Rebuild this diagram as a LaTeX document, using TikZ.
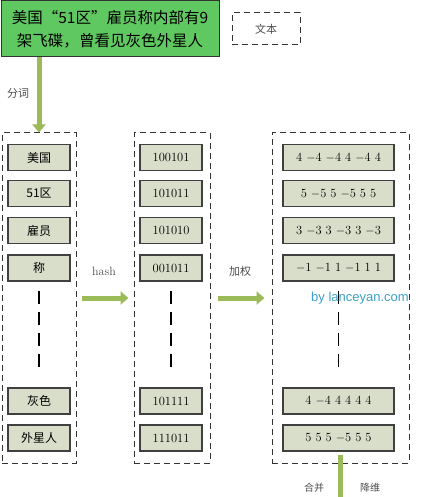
\documentclass[tikz,border=0pt]{standalone}
\usepackage{fontspec}
\newfontfamily\cjk{Noto Sans CJK SC}
\newfontfamily\webfont{Liberation Sans}
\usetikzlibrary{arrows.meta}
\definecolor{topgreen}{RGB}{96,200,96}
\definecolor{flowgreen}{RGB}{155,187,89}
\definecolor{itemfill}{RGB}{217,222,203}
\definecolor{markblue}{RGB}{60,160,200}
\newcommand\wsep{\hspace{4pt}}
\tikzset{
  item/.style={draw=black!75,line width=1.2pt,fill=itemfill,minimum height=26pt,inner sep=0pt,font=\fontsize{12.5}{14}\selectfont},
  column/.style={draw=black!80,line width=1pt,dash pattern=on 6pt off 4pt,minimum height=330pt,inner sep=0pt},
  flow/.style={line width=5pt,draw=flowgreen,-{Triangle[width=13pt,length=8pt]}},
  gapline/.style={line width=1.5pt,dash pattern=on 13pt off 8pt},
  steplabel/.style={font=\fontsize{12}{14}\selectfont,text=black!70}
}
\begin{document}
\begin{tikzpicture}[x=1pt,y=-1pt]
        \useasboundingbox (0,0) rectangle (425,497);
        % text and sample box
        \node[draw=black!80,line width=1pt,fill=topgreen,minimum width=218pt,minimum height=56pt,align=center,inner sep=0pt,
              font=\cjk\fontsize{15.5}{23}\selectfont] (doc) at (110,29) {美国“51区”雇员称内部有9\\架飞碟，曾看见灰色外星人};
        \node[draw=black!80,line width=1pt,dash pattern=on 6pt off 4pt,minimum width=68pt,minimum height=32pt,
              font=\cjk\fontsize{11}{13}\selectfont,text=black!70] (legend) at (266,29) {文本};
        % columns
        \node[column,minimum width=74pt] (c1) at (39,298) {};
        \node[column,minimum width=76pt] (c2) at (172,298) {};
        \node[column,minimum width=137pt] (c3) at (340.5,298) {};
        % words
        \node[item,minimum width=62pt,font=\cjk\fontsize{12}{14}\selectfont] (w1) at (39,157.5) {美国};
        \node[item,minimum width=62pt,font=\cjk\fontsize{12}{14}\selectfont] (w2) at (39,193.5) {51区};
        \node[item,minimum width=62pt,font=\cjk\fontsize{12}{14}\selectfont] (w3) at (39,230.5) {雇员};
        \node[item,minimum width=62pt,font=\cjk\fontsize{12}{14}\selectfont] (w4) at (39,268) {称};
        \node[item,minimum width=62pt,font=\cjk\fontsize{12}{14}\selectfont] (w5) at (39,401) {灰色};
        \node[item,minimum width=62pt,font=\cjk\fontsize{12}{14}\selectfont] (w6) at (39,438) {外星人};
        % hashes
        \node[item,minimum width=62pt] (h1) at (171,157.5) {100101};
        \node[item,minimum width=62pt] (h2) at (171,193.5) {101011};
        \node[item,minimum width=62pt] (h3) at (171,230.5) {101010};
        \node[item,minimum width=62pt] (h4) at (171,268) {001011};
        \node[item,minimum width=62pt] (h5) at (171,401) {101111};
        \node[item,minimum width=62pt] (h6) at (171,438) {111011};
        % weights
        \node[item,minimum width=111pt] (v1) at (338.5,157.5) {4\wsep\(-\)4\wsep\(-\)4\wsep 4\wsep\(-\)4\wsep 4};
        \node[item,minimum width=111pt] (v2) at (338.5,193.5) {5\wsep\(-\)5\wsep 5\wsep\(-\)5\wsep 5\wsep 5};
        \node[item,minimum width=111pt] (v3) at (338.5,230.5) {3\wsep\(-\)3\wsep 3\wsep\(-\)3\wsep 3\wsep\(-\)3};
        \node[item,minimum width=111pt] (v4) at (338.5,268) {\(-\)1\wsep\(-\)1\wsep 1\wsep\(-\)1\wsep 1\wsep 1};
        \node[item,minimum width=111pt] (v5) at (338.5,401) {4\wsep\(-\)4\wsep 4\wsep 4\wsep 4\wsep 4};
        \node[item,minimum width=111pt] (v6) at (338.5,438) {5\wsep 5\wsep 5\wsep\(-\)5\wsep 5\wsep 5};
        % skipped rows
        \draw[gapline] ([yshift=-9pt]w4.south) -- ([yshift=16pt]w5.north);
        \draw[gapline] ([yshift=-9pt]h4.south) -- ([yshift=16pt]h5.north);
        \draw[gapline] ([yshift=-9pt]v4.south) -- ([yshift=16pt]v5.north);
        \node[font=\webfont\fontsize{13}{15}\selectfont,text=markblue] (mark) at (360,298) {by lanceyan.com};
        % steps
        \draw[flow] (doc.south -| c1.north) -- (c1.north);
        \node[steplabel,font=\cjk\fontsize{11}{13}\selectfont] (t1) at (18,93) {分词};
        \draw[flow] ([xshift=5pt]c1.east) -- ([xshift=-5pt]c2.west);
        \node[steplabel] (t2) at (104,271) {hash};
        \draw[flow] ([xshift=7pt]c2.east) -- ([xshift=-7pt]c3.west);
        \node[steplabel,font=\cjk\fontsize{11}{13}\selectfont] (t3) at (240,271) {加权};
        \coordinate (down) at (340.5,530);
        \draw[flow] ([yshift=9pt]c3.south) -- (down);
        \node[steplabel,font=\cjk\fontsize{10}{12}\selectfont] (t4) at (314,488) {合并};
        \node[steplabel,font=\cjk\fontsize{10}{12}\selectfont] (t5) at (370,488) {降维};
\end{tikzpicture}
\end{document}
